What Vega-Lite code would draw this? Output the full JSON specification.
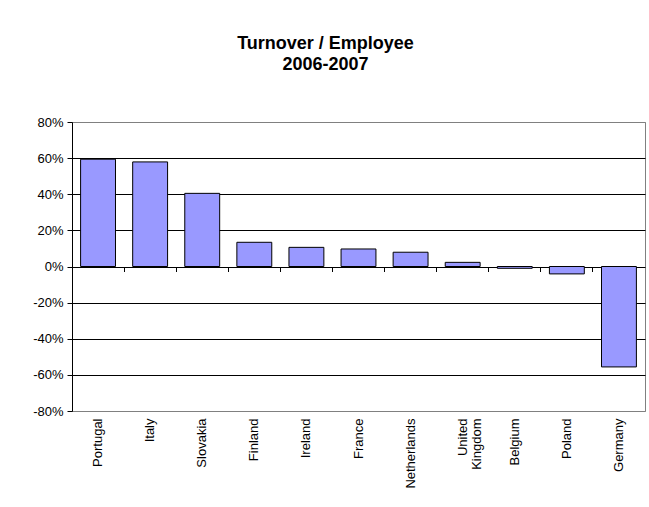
{
  "$schema": "https://vega.github.io/schema/vega-lite/v6.json",
  "width": 573,
  "height": 289,
  "autosize": {"type": "none"},
  "padding": {"left": 72, "top": 122, "right": 4, "bottom": 96},
  "background": "white",
  "title": {
    "text": ["Turnover / Employee", "2006-2007"],
    "font": "Liberation Sans",
    "fontSize": 18,
    "fontWeight": "bold",
    "color": "black",
    "lineHeight": 21,
    "anchor": "middle",
    "dx": -33,
    "offset": 42
  },
  "config": {
    "view": {"stroke": "#808080", "strokeWidth": 1},
    "axis": {"labelFont": "Liberation Sans", "labelColor": "black", "labelFontSize": 13}
  },
  "data": {
    "values": [
      {"country": "Portugal", "value": 0.594},
      {"country": "Italy", "value": 0.579},
      {"country": "Slovakia", "value": 0.405},
      {"country": "Finland", "value": 0.134},
      {"country": "Ireland", "value": 0.106},
      {"country": "France", "value": 0.097},
      {"country": "Netherlands", "value": 0.079},
      {"country": "United Kingdom", "value": 0.023},
      {"country": "Belgium", "value": -0.01},
      {"country": "Poland", "value": -0.041},
      {"country": "Germany", "value": -0.556}
    ]
  },
  "layer": [
    {
      "mark": {"type": "bar", "fill": "#9999FF", "stroke": "black", "strokeWidth": 1},
      "encoding": {
        "x": {
          "field": "country",
          "type": "nominal",
          "sort": null,
          "scale": {"paddingInner": 0.33, "paddingOuter": 0.165},
          "axis": {
            "orient": "bottom",
            "title": null,
            "labelAngle": -90,
            "labelPadding": 7,
            "labelLineHeight": 14,
            "ticks": false,
            "domain": false,
            "labelExpr": "datum.label == 'United Kingdom' ? ['United', 'Kingdom'] : datum.label"
          }
        },
        "y": {
          "field": "value",
          "type": "quantitative",
          "scale": {"domain": [-0.8, 0.8], "nice": false},
          "axis": {
            "title": null,
            "format": ".0%",
            "labelExpr": "replace(datum.label, '−', '-')",
            "labelOverlap": false,
            "values": [-0.8, -0.6, -0.4, -0.2, 0, 0.2, 0.4, 0.6, 0.8],
            "grid": true,
            "gridColor": {"condition": {"test": "abs(datum.value) > 0.79", "value": "#808080"}, "value": "black"},
            "gridWidth": 1,
            "gridOpacity": 1,
            "domainColor": "black",
            "tickColor": "black",
            "tickSize": 5,
            "labelPadding": 4
          }
        }
      }
    },
    {
      "mark": {"type": "tick", "opacity": 0},
      "encoding": {
        "x": {
          "field": "country",
          "type": "nominal",
          "sort": null,
          "scale": {"paddingInner": 0.33, "paddingOuter": 0.165},
          "axis": {
            "orient": "top",
            "offset": -149.5,
            "title": null,
            "labels": false,
            "domain": false,
            "ticks": true,
            "tickColor": "black",
            "tickOpacity": 1,
            "tickWidth": 1,
            "tickSize": 5,
            "bandPosition": -0.246
          }
        }
      }
    }
  ],
  "resolve": {"axis": {"x": "independent"}}
}
